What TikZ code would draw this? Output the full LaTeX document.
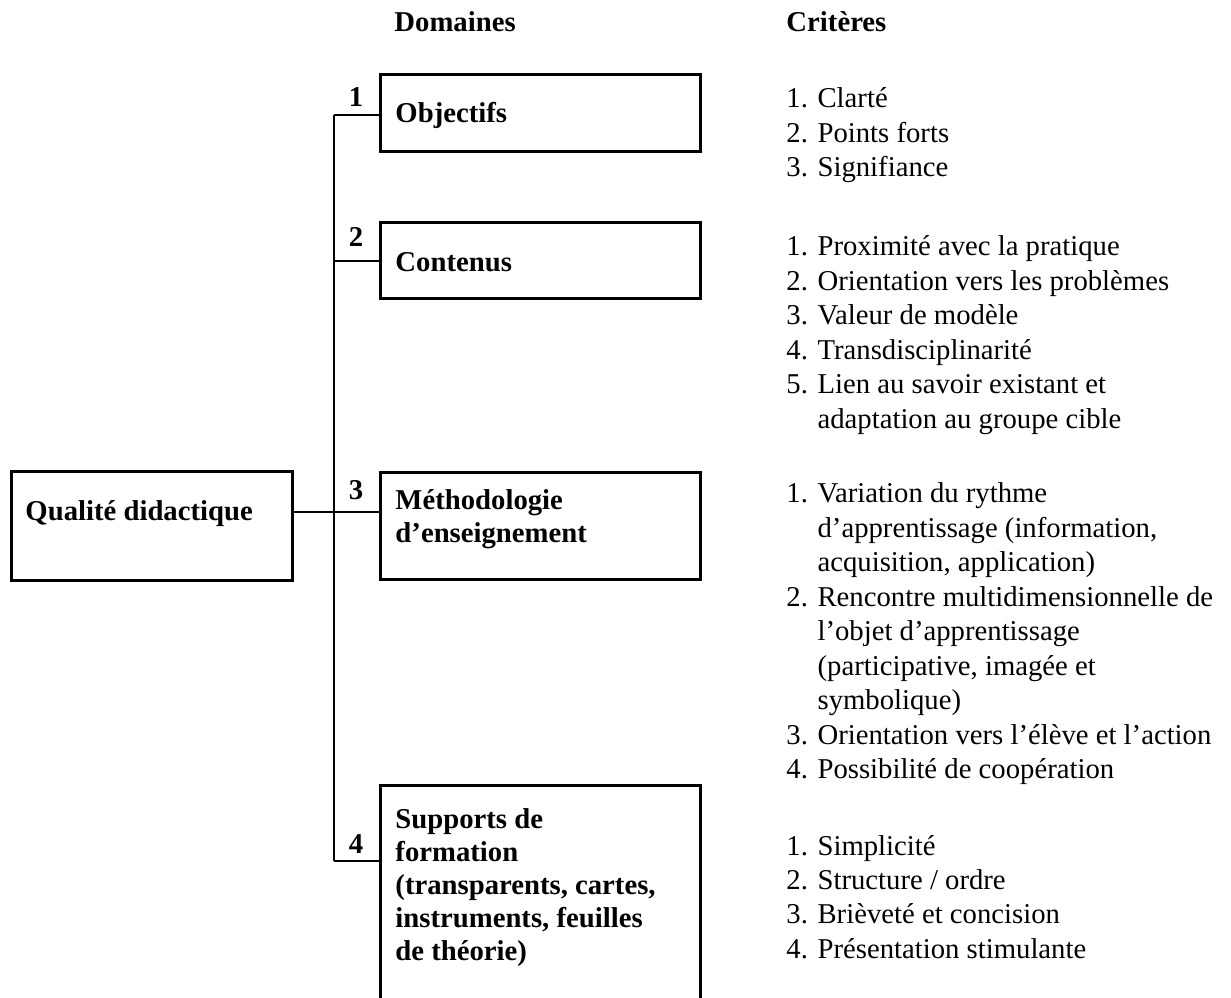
\documentclass[tikz,border=0pt]{standalone}
\usepackage{fontspec}
\setmainfont{Liberation Serif}
\usepackage{tikz}

\newcommand\pxu{0.418pt}
\newcommand\critlist[1]{\begin{tabular}[t]{@{}l@{\hspace{4pt}}l@{}}#1\end{tabular}}
\newcommand\boxlines[1]{\begin{tabular}[t]{@{}l@{}}#1\end{tabular}}

\begin{document}
\begin{tikzpicture}[
  x=\pxu, y=-\pxu,
  box/.style={draw, line width=1.1pt, inner sep=0pt, anchor=north west},
  dom/.style={font=\fontsize{12}{13.6}\selectfont\bfseries, inner sep=0pt, anchor=base west},
  num/.style={font=\fontsize{12}{13.6}\selectfont\bfseries, inner sep=0pt, anchor=base},
  crit/.style={font=\fontsize{12}{14.4}\selectfont, inner sep=0pt, anchor=base west},
  link/.style={line width=1.1pt}
]
\path[use as bounding box] (0,0) rectangle (1231,998);
\clip (0,0) rectangle (1231,998);

% headings
\node[dom] (hdom) at (394,32) {Domaines};
\node[dom] (hcrit) at (786,32) {Critères};

% frames
\node[box, minimum width=281*\pxu, minimum height=109*\pxu] (qual) at (10,470) {};
\node[box, minimum width=320*\pxu, minimum height=77*\pxu] (obj) at (379,73) {};
\node[box, minimum width=320*\pxu, minimum height=76*\pxu] (cont) at (379,221) {};
\node[box, minimum width=320*\pxu, minimum height=107*\pxu] (meth) at (379,471) {};
\node[box, minimum width=320*\pxu, minimum height=240*\pxu] (supp) at (379,784) {};

% texts in the frames
\node[dom] (qualtxt) at (25,521) {Qualité didactique};
\node[dom] (objtxt) at (395,123) {Objectifs};
\node[dom] (conttxt) at (395,272) {Contenus};
\node[dom, font=\fontsize{12}{13.4}\selectfont\bfseries] (methtxt) at (395,510)
  {\boxlines{Méthodologie\\d’enseignement}};
\node[dom, font=\fontsize{12}{13.8}\selectfont\bfseries] (supptxt) at (395,828)
  {\boxlines{Supports de\\formation\\(transparents, cartes,\\instruments, feuilles\\de théorie)}};

% tree
\coordinate (j1) at (334,115);
\coordinate (j2) at (334,261);
\coordinate (j3) at (334,512);
\coordinate (j4) at (334,861);
\draw[link] (j1) -- (j4);
\draw[link] (j1) -- (j1 -| obj.west);
\draw[link] (j2) -- (j2 -| cont.west);
\draw[link] (j3 -| qual.east) -- (j3 -| meth.west);
\draw[link] (j4) -- (j4 -| supp.west);

\node[num] (n1) at (356,107) {1};
\node[num] (n2) at (356,247) {2};
\node[num] (n3) at (356,500) {3};
\node[num] (n4) at (356,853) {4};

% criteria
\node[crit] (cobj) at (786,108) {\critlist{
  1. & Clarté\\
  2. & Points forts\\
  3. & Signifiance}};
\node[crit] (ccont) at (786,256) {\critlist{
  1. & Proximité avec la pratique\\
  2. & Orientation vers les problèmes\\
  3. & Valeur de modèle\\
  4. & Transdisciplinarité\\
  5. & Lien au savoir existant et\\
     & adaptation au groupe cible}};
\node[crit] (cmeth) at (786,503) {\critlist{
  1. & Variation du rythme\\
     & d’apprentissage (information,\\
     & acquisition, application)\\
  2. & Rencontre multidimensionnelle de\\
     & l’objet d’apprentissage\\
     & (participative, imagée et\\
     & symbolique)\\
  3. & Orientation vers l’élève et l’action\\
  4. & Possibilité de coopération}};
\node[crit] (csupp) at (786,855) {\critlist{
  1. & Simplicité\\
  2. & Structure / ordre\\
  3. & Brièveté et concision\\
  4. & Présentation stimulante}};
\end{tikzpicture}
\end{document}
